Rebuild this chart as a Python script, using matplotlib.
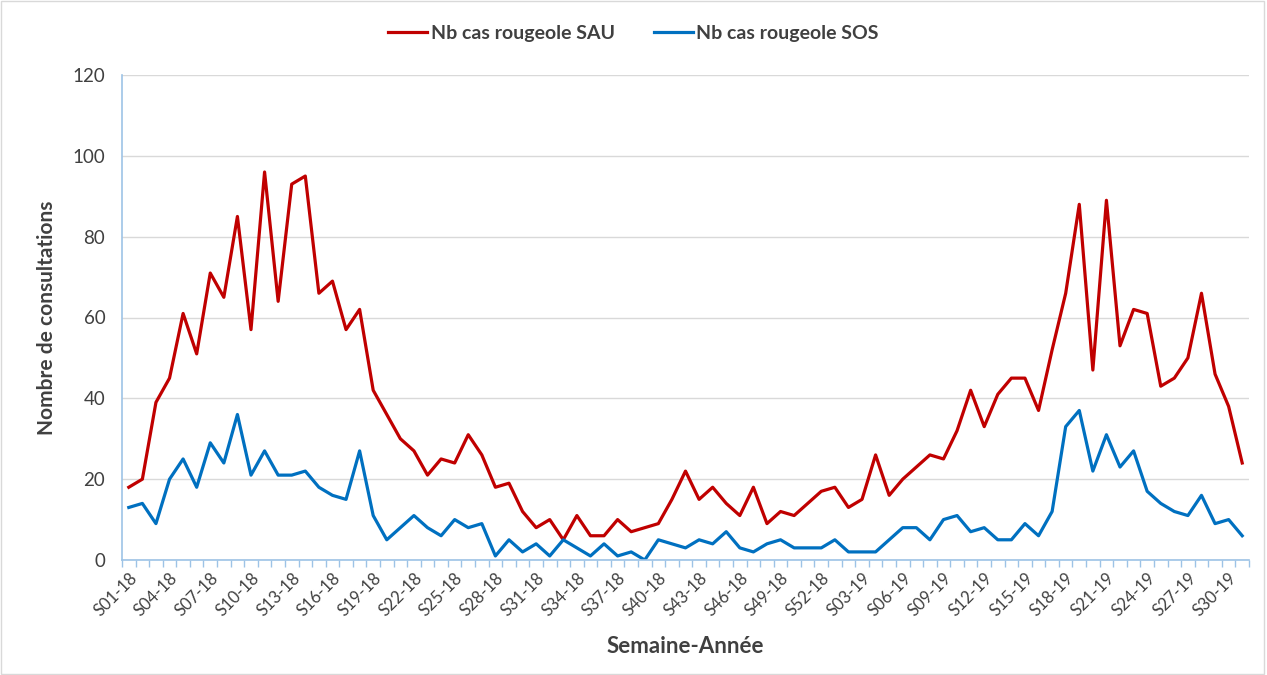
import matplotlib.pyplot as plt
from matplotlib.patches import Rectangle
from matplotlib.ticker import FixedLocator

plt.rcParams['font.family'] = ['Lato', 'DejaVu Sans']

weeks = ['S%02d-18' % w for w in range(1, 53)] + ['S%02d-19' % w for w in range(1, 32)]

sau = [18, 20, 39, 45, 61, 51, 71, 65, 85, 57, 96, 64, 93, 95, 66, 69, 57, 62, 42, 36,
       30, 27, 21, 25, 24, 31, 26, 18, 19, 12, 8, 10, 5, 11, 6, 6, 10, 7, 8, 9,
       15, 22, 15, 18, 14, 11, 18, 9, 12, 11, 14, 17,
       18, 13, 15, 26, 16, 20, 23, 26, 25, 32, 42, 33, 41, 45, 45, 37, 52, 66, 88,
       47, 89, 53, 62, 61, 43, 45, 50, 66, 46, 38, 24]

sos = [13, 14, 9, 20, 25, 18, 29, 24, 36, 21, 27, 21, 21, 22, 18, 16, 15, 27, 11, 5,
       8, 11, 8, 6, 10, 8, 9, 1, 5, 2, 4, 1, 5, 3, 1, 4, 1, 2, 0, 5,
       4, 3, 5, 4, 7, 3, 2, 4, 5, 3, 3, 3,
       5, 2, 2, 2, 5, 8, 8, 5, 10, 11, 7, 8, 5, 5, 9, 6, 12, 33, 37,
       22, 31, 23, 27, 17, 14, 12, 11, 16, 9, 10, 6]

x = list(range(len(weeks)))

fig = plt.figure(figsize=(12.67, 6.75), dpi=100)
ax = fig.add_axes([122 / 1267, 1 - 560 / 675, (1249 - 122) / 1267, (560 - 75) / 675])

ax.plot(x, sau, color='#C00000', lw=2.3, label='Nb cas rougeole SAU')
ax.plot(x, sos, color='#0070C0', lw=2.3, label='Nb cas rougeole SOS')

ax.set_xlim(-0.5, len(weeks) - 0.5)
ax.set_ylim(0, 120)
ax.set_yticks(range(0, 121, 20))
ax.grid(axis='y', color='#D9D9D9', lw=1)
ax.set_axisbelow(True)

ax.set_xticks(x[::3])
ax.set_xticklabels(weeks[::3], rotation=45, ha='right', rotation_mode='anchor',
                   fontsize=12, color='#404040')
ax.xaxis.set_minor_locator(FixedLocator([i - 0.5 for i in range(len(weeks) + 1)]))
ax.tick_params(axis='x', which='major', length=0, pad=7)
ax.tick_params(axis='x', which='minor', length=5, color='#9DC3E6', width=1)
ax.tick_params(axis='y', length=0, labelsize=13.5, labelcolor='#404040', pad=12)

for s in ['top', 'right']:
    ax.spines[s].set_visible(False)
for s in ['left', 'bottom']:
    ax.spines[s].set_color('#9DC3E6')
    ax.spines[s].set_linewidth(1.2)

ax.set_ylabel('Nombre de consultations', fontsize=15, fontweight='bold', color='#404040', labelpad=11)
ax.set_xlabel('Semaine-Année', fontsize=16, fontweight='bold', color='#404040', labelpad=12)

fig.legend(loc='center', bbox_to_anchor=(0.5, 1 - 33 / 675), ncol=2, frameon=False,
           prop={'size': 14, 'weight': 'bold'}, labelcolor='#404040',
           handlelength=2.0, columnspacing=2.0, handletextpad=0.2)

fig.patches.append(Rectangle((0.001, 0.002), 0.997, 0.996, transform=fig.transFigure,
                             fill=False, edgecolor='#D9D9D9', lw=1))

plt.savefig('out.png', dpi=100)
